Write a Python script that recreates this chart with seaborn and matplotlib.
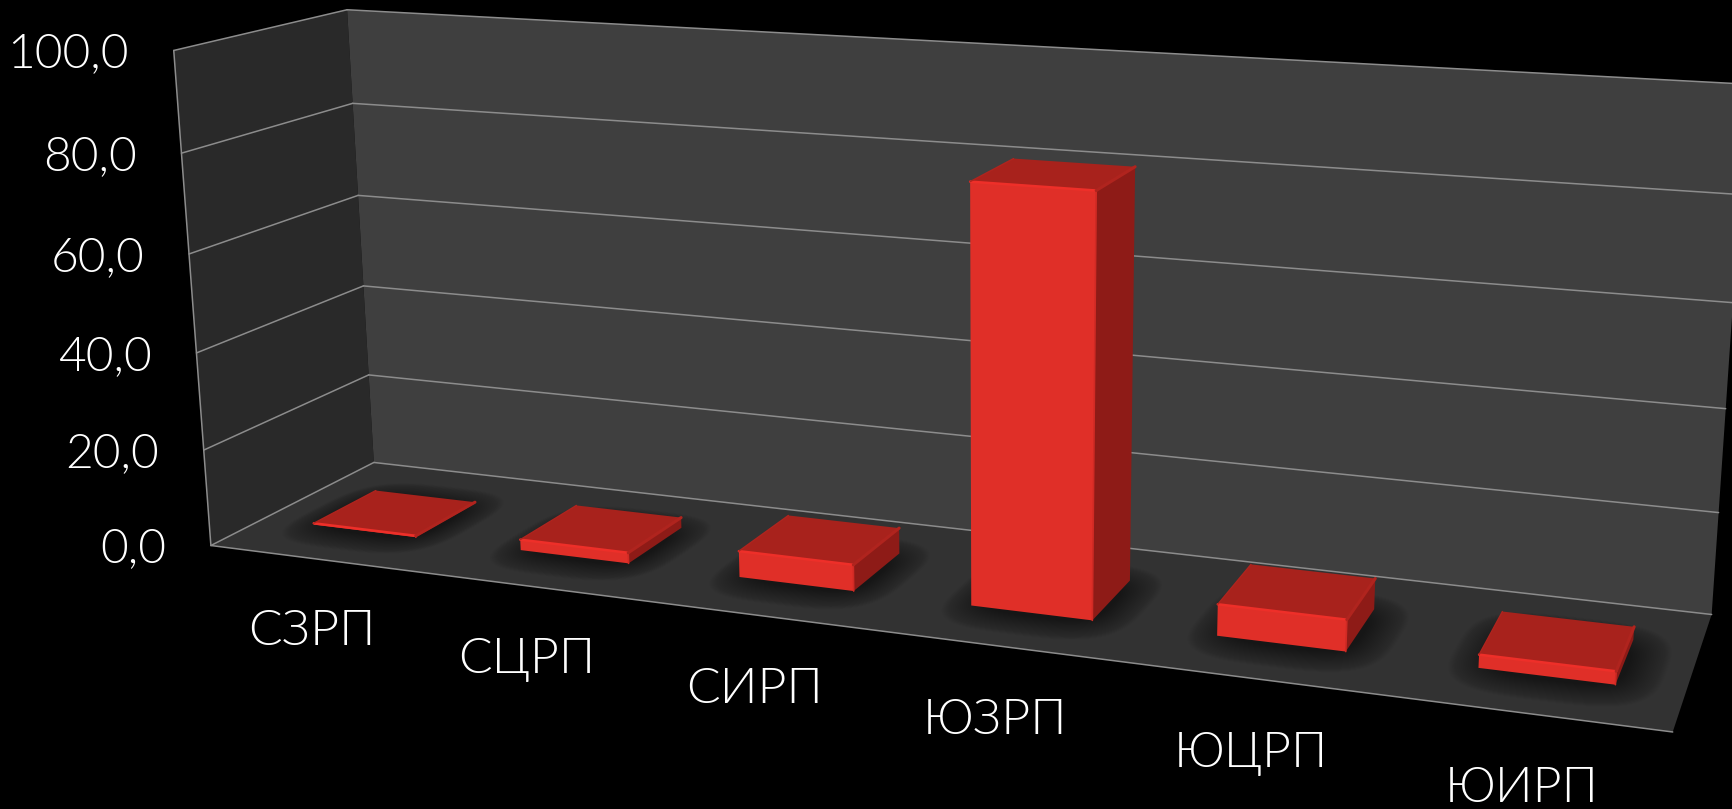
# -*- coding: utf-8 -*-

"""
3D-look bar chart on a black slide, drawn with a seaborn barplot
whose bars are pushed through a perspective projection.
"""

import numpy as np
import pandas as pd
import matplotlib
matplotlib.use("Agg")
import matplotlib.pyplot as plt
import matplotlib.transforms as mtransforms
from matplotlib.patches import Polygon
import seaborn as sns

# =========================
# DATA
# =========================

regions = ["СЗРП", "СЦРП", "СИРП", "ЮЗРП", "ЮЦРП", "ЮИРП"]
values = [0.3, 2.2, 5.3, 81.4, 6.1, 2.5]
y_ticks = [0, 20, 40, 60, 80, 100]
y_tick_labels = ["0,0", "20,0", "40,0", "60,0", "80,0", "100,0"]

# =========================
# LAYOUT / STYLE
# =========================

WIDTH, HEIGHT = 1733, 809

# pixel positions of the box edges at each y tick, used to fit the camera
FRONT_LEFT = [(210, 546), (204, 450), (197, 353), (189, 254), (182, 153), (173, 51)]
BACK_LEFT = [(374, 462), (369, 375), (363, 286), (358, 195), (353, 103), (347, 10)]
BACK_RIGHT = [(1711, 615), (1719, 513), (1726, 409), (1733, 303), (1740, 194), (1748, 84)]
FRONT_RIGHT_FLOOR = (1673, 731)

X_MIN, X_MAX = -0.5, 5.5
BAR_WIDTH = 0.5
BAR_FRONT, BAR_BACK = 0.305, 0.695

BACK_WALL = "#3f3f3f"
LEFT_WALL = "#292929"
FLOOR = "#323232"
GRID = "#8c8c8c"
RED_FRONT = "#e02f28"
RED_TOP = "#a8221c"
RED_SIDE = "#8e1b17"
RED_LIGHT = "#ee2f29"
RED_BEVEL = "#b0241e"

# =========================
# CAMERA
# =========================

anchors = [(X_MIN, z, 0, *p) for z, p in zip(y_ticks, FRONT_LEFT)]
anchors += [(X_MIN, z, 1, *p) for z, p in zip(y_ticks, BACK_LEFT)]
anchors += [(X_MAX, z, 1, *p) for z, p in zip(y_ticks, BACK_RIGHT)]
anchors += [(X_MAX, 0, 0, *FRONT_RIGHT_FLOOR)]

rows = []
for x, z, w, u, v in anchors:
    u, v = u / 1000, v / 1000
    X = [x, z / 100, w, 1]
    rows.append(X + [0, 0, 0, 0] + [-u * c for c in X])
    rows.append([0, 0, 0, 0] + X + [-v * c for c in X])
P = np.linalg.svd(np.array(rows))[2][-1].reshape(3, 4)


def proj(x, z, w):
    """chart coords (category, value, depth) -> display pixels"""
    x, z, w = np.broadcast_arrays(np.asarray(x, float), np.asarray(z, float), np.asarray(w, float))
    pts = np.stack([x, z / 100, w, np.ones_like(x)], axis=-1)
    h = pts @ P.T
    u = h[..., 0] / h[..., 2] * 1000
    v = h[..., 1] / h[..., 2] * 1000
    return np.stack([u, HEIGHT - v], axis=-1)


class WallTransform(mtransforms.Transform):
    """maps (category, value) data onto the wall at a fixed depth"""
    input_dims = 2
    output_dims = 2
    is_separable = False
    has_inverse = False

    def __init__(self, wall_depth):
        super().__init__()
        self.wall_depth = wall_depth

    def transform_non_affine(self, values):
        values = np.asarray(values, float)
        return proj(values[:, 0], values[:, 1], self.wall_depth)


def face(ax, pts, color, zorder):
    ax.add_patch(Polygon(pts, closed=True, facecolor=color, edgecolor="none", zorder=zorder,
                         transform=mtransforms.IdentityTransform()))


def edge(ax, pts, color, lw, zorder):
    pts = np.asarray(pts)
    ax.plot(pts[:, 0], pts[:, 1], color=color, lw=lw, zorder=zorder, solid_capstyle="round",
            transform=mtransforms.IdentityTransform())


# =========================
# PLOT
# =========================

sns.set_theme(style="dark", rc={"figure.facecolor": "black", "axes.facecolor": "black"})
plt.rcParams["font.family"] = ["Lato", "DejaVu Sans"]

df = pd.DataFrame({"region": regions, "value": values})

fig = plt.figure(figsize=(WIDTH / 100, HEIGHT / 100), dpi=100)
ax = fig.add_axes([0, 0, 1, 1])

sns.barplot(data=df, x="region", y="value", color=RED_FRONT, saturation=1, width=BAR_WIDTH,
            errorbar=None, linewidth=0, ax=ax)
bars = list(ax.patches)

# box
face(ax, proj([X_MIN, X_MIN, X_MIN, X_MIN], [0, 100, 100, 0], [0, 0, 1, 1]), LEFT_WALL, 0)
face(ax, proj([X_MIN, X_MIN, X_MAX, X_MAX], [0, 100, 100, 0], [1, 1, 1, 1]), BACK_WALL, 0)
floor_poly = Polygon(proj([X_MIN, X_MIN, X_MAX, X_MAX], [0, 0, 0, 0], [0, 1, 1, 0]), closed=True,
                     facecolor=FLOOR, edgecolor="none", zorder=1,
                     transform=mtransforms.IdentityTransform())
ax.add_patch(floor_poly)

# gridlines on both walls
back_tf = WallTransform(1.0)
for z in y_ticks:
    ax.plot([X_MIN, X_MAX], [z, z], color=GRID, lw=1.1, zorder=2, transform=back_tf)
    edge(ax, proj([X_MIN, X_MIN], [z, z], [0, 1]), GRID, 1.1, 2)
edge(ax, proj([X_MIN, X_MIN], [0, 100], [0, 0]), GRID, 1.1, 2)
edge(ax, proj([X_MIN, X_MAX], [0, 0], [0, 0]), GRID, 1.1, 2)

t = np.linspace(0, 2 * np.pi, 72)
front_tf = WallTransform(BAR_FRONT)
for bar in bars:
    x0 = bar.get_x()
    x1 = x0 + bar.get_width()
    h = bar.get_height()
    cx = (x0 + x1) / 2 + 0.02
    cw = (BAR_FRONT + BAR_BACK) / 2 - 0.03

    # soft shadow on the floor: stacked see-through blobs
    for k in np.linspace(1, 0, 24):
        a = BAR_WIDTH / 2 + 0.14 * k
        b = (BAR_BACK - BAR_FRONT) / 2 + 0.17 * k
        xs = cx + a * np.sign(np.cos(t)) * np.abs(np.cos(t)) ** 0.6
        ws = cw + b * np.sign(np.sin(t)) * np.abs(np.sin(t)) ** 0.6
        blob = Polygon(proj(xs, 0, ws), closed=True, facecolor="black", edgecolor="none",
                       alpha=0.024, zorder=3, transform=mtransforms.IdentityTransform())
        ax.add_patch(blob)
        blob.set_clip_path(floor_poly)

    # the seaborn bar is the front face
    bar.set_transform(front_tf)
    bar.set_zorder(5)
    bar.set_snap(False)

    face(ax, proj([x1, x1, x1, x1], [0, h, h, 0], [BAR_FRONT, BAR_FRONT, BAR_BACK, BAR_BACK]), RED_SIDE, 4)
    face(ax, proj([x0, x1, x1, x0], [h, h, h, h], [BAR_FRONT, BAR_FRONT, BAR_BACK, BAR_BACK]), RED_TOP, 4)

    # bevel highlights
    edge(ax, proj([x0, x1], [h, h], [BAR_FRONT, BAR_FRONT]), RED_LIGHT, 1.8, 6)
    edge(ax, proj([x1, x1], [0, h], [BAR_FRONT, BAR_FRONT]), "#d02a24", 1.2, 6)
    edge(ax, proj([x1, x1], [h, h], [BAR_FRONT, BAR_BACK]), RED_BEVEL, 2.2, 6)
    edge(ax, proj([x0, x0], [h, h], [BAR_FRONT, BAR_BACK]), RED_BEVEL, 1.0, 6)

# tick labels (real text, placed off the front-left edge)
for z, label in zip(y_ticks, y_tick_labels):
    px = proj(X_MIN, z, 0)
    ax.text(px[0] - 45, px[1] - 17, label, color="white", fontsize=34.5, fontweight=300,
            ha="right", va="baseline", transform=mtransforms.IdentityTransform())

for i, label in enumerate(regions):
    px = proj(0.45 + 0.926 * i, 0, -0.56 + 0.012 * i)
    ax.text(px[0], px[1] - 17.5, label, color="white", fontsize=36, fontweight=300,
            ha="center", va="baseline", transform=mtransforms.IdentityTransform())

ax.set_xlim(X_MIN, X_MAX)
ax.set_ylim(0, 100)
ax.set_axis_off()

fig.savefig("out.png", dpi=100, facecolor="black")
